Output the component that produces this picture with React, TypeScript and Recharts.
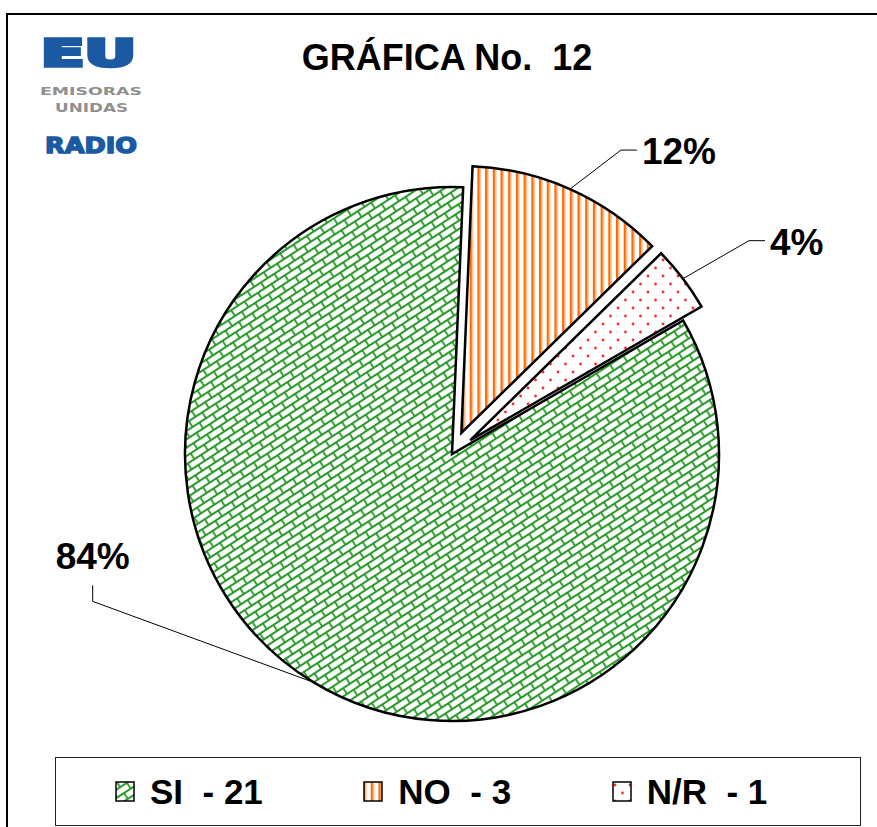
import { Legend, Pie, PieChart, Cell, Sector } from "recharts";

const categories = ["SI", "NO", "N/R"];
const counts = [21, 3, 1];
const percentLabels = ["84%", "12%", "4%"];
const legendLabels = ["SI  - 21", "NO  - 3", "N/R  - 1"];
const explodedSlices = ["NO", "N/R"];

const data = categories.map((name, i) => ({ name, value: counts[i] }));
const fills = ["url(#pat-si)", "url(#pat-no)", "url(#pat-nr)"];

const RAD = Math.PI / 180;
const EXPLODE = 23;
const FONT = '"Liberation Sans", Arial, sans-serif';

// where each label's leader bends, relative to the slice edge point
const labelLayout = [
  { dx: -221, dy: -81, stub: "up" },
  { dx: 51, dy: -39, stub: "right" },
  { dx: 66, dy: -38, stub: "right" },
];

const shift = (name: string, midAngle: number) => {
  const d = explodedSlices.includes(name) ? EXPLODE : 0;
  return { x: d * Math.cos(-midAngle * RAD), y: d * Math.sin(-midAngle * RAD) };
};

function ExplodedSector(props: any) {
  const name = props.name ?? props.payload?.name;
  const s = shift(name, props.midAngle);
  return <Sector {...props} cx={props.cx + s.x} cy={props.cy + s.y} />;
}

function renderLabel(props: any) {
  const { cx, cy, midAngle, outerRadius, index } = props;
  const name = categories[index];
  const s = shift(name, midAngle);
  const ex = cx + s.x + outerRadius * Math.cos(-midAngle * RAD);
  const ey = cy + s.y + outerRadius * Math.sin(-midAngle * RAD);
  const lay = labelLayout[index];
  const bx = ex + lay.dx;
  const by = ey + lay.dy;
  if (lay.stub === "up") {
    return (
      <g>
        <polyline points={`${ex},${ey} ${bx},${by} ${bx},${by - 16}`} fill="none" stroke="#000" strokeWidth={1} />
        <text x={bx} y={by - 32} textAnchor="middle" fontFamily={FONT} fontWeight="bold" fontSize={37} fill="#000">
          {percentLabels[index]}
        </text>
      </g>
    );
  }
  return (
    <g>
      <polyline points={`${ex},${ey} ${bx},${by} ${bx + 16},${by}`} fill="none" stroke="#000" strokeWidth={1} />
      <text x={bx + 21} y={by + 14} fontFamily={FONT} fontWeight="bold" fontSize={37} fill="#000">
        {percentLabels[index]}
      </text>
    </g>
  );
}

function LegendBox() {
  return (
    <div
      style={{
        width: 806,
        height: 69,
        boxSizing: "border-box",
        border: "1.5px solid #222",
        background: "#fff",
        display: "flex",
        alignItems: "center",
        paddingLeft: 59,
      }}
    >
      {categories.map((c, i) => (
        <div key={c} style={{ width: 268, display: "flex", alignItems: "center" }}>
          <svg width={21} height={22} style={{ marginRight: 14 }}>
            <rect x={1} y={1} width={18} height={19} fill={fills[i]} stroke="#000" strokeWidth={1.5} />
          </svg>
          <span style={{ fontFamily: FONT, fontWeight: "bold", fontSize: 35, whiteSpace: "pre", color: "#000" }}>
            {legendLabels[i]}
          </span>
        </div>
      ))}
    </div>
  );
}

export default function App() {
  return (
    <div style={{ position: "fixed", left: 0, top: 0, width: 877, height: 827, background: "#fff", overflow: "hidden" }}>
      <svg width={877} height={827} style={{ position: "absolute", left: 0, top: 0 }}>
        <rect x={7} y={14} width={900} height={900} fill="none" stroke="#000" strokeWidth={2} />
        <text x={447} y={70} textAnchor="middle" fontFamily={FONT} fontWeight="bold" fontSize={36} fill="#000" style={{ whiteSpace: "pre" }}>
          GRÁFICA No.  12
        </text>
        <g fontFamily='"DejaVu Sans", sans-serif'>
          <text x={41} y={66} fontSize={37} fontWeight="bold" fill="#1b5aa3" stroke="#1b5aa3" strokeWidth={3.5} textLength={95} lengthAdjust="spacingAndGlyphs">EU</text>
          <text x={40} y={95} fontSize={11} fontWeight="bold" fill="#8f8f8f" textLength={102} lengthAdjust="spacingAndGlyphs">EMISORAS</text>
          <text x={55} y={112} fontSize={12} fontWeight="bold" fill="#8f8f8f" textLength={73} lengthAdjust="spacingAndGlyphs">UNIDAS</text>
          <text x={45} y={153} fontSize={22} fontWeight="bold" fill="#1b5aa3" stroke="#1b5aa3" strokeWidth={1.5} textLength={92} lengthAdjust="spacingAndGlyphs">RADIO</text>
        </g>
      </svg>
      <div style={{ position: "absolute", left: 0, top: 0 }}>
        <PieChart width={877} height={827} margin={{ top: 0, right: 0, bottom: 0, left: 0 }}>
          <defs>
            <pattern id="pat-si" patternUnits="userSpaceOnUse" width={16} height={14} patternTransform="rotate(-33)">
              <rect width={16} height={14} fill="#fff" />
              <path d="M0 1H16M0 8H16M1 1V8M9 8V14M9 0V1" stroke="#289a28" strokeWidth={1.8} fill="none" />
            </pattern>
            <pattern id="pat-no" patternUnits="userSpaceOnUse" width={7.7} height={10}>
              <rect width={7.7} height={10} fill="#fff" />
              <rect x={0} width={2} height={10} fill="#ff6a00" />
              <rect x={2} width={1.5} height={10} fill="#ffb27a" />
            </pattern>
            <pattern id="pat-nr" patternUnits="userSpaceOnUse" width={15} height={16}>
              <rect width={15} height={16} fill="#fff" />
              <circle cx={3} cy={4} r={1.4} fill="#ff2a2a" />
              <circle cx={10.5} cy={12} r={1.4} fill="#ff2a2a" />
            </pattern>
          </defs>
          <Pie
            data={data}
            dataKey="value"
            nameKey="name"
            cx={452}
            cy={454}
            outerRadius={267}
            startAngle={30}
            endAngle={-330}
            stroke="#000"
            strokeWidth={2.5}
            labelLine={false}
            label={renderLabel}
            shape={ExplodedSector}
            isAnimationActive={false}
          >
            {data.map((d, i) => (
              <Cell key={d.name} fill={fills[i]} />
            ))}
          </Pie>
          <Legend
            content={() => <LegendBox />}
            wrapperStyle={{ position: "absolute", left: 55, top: 757, width: 806, height: 69 }}
          />
        </PieChart>
      </div>
    </div>
  );
}
